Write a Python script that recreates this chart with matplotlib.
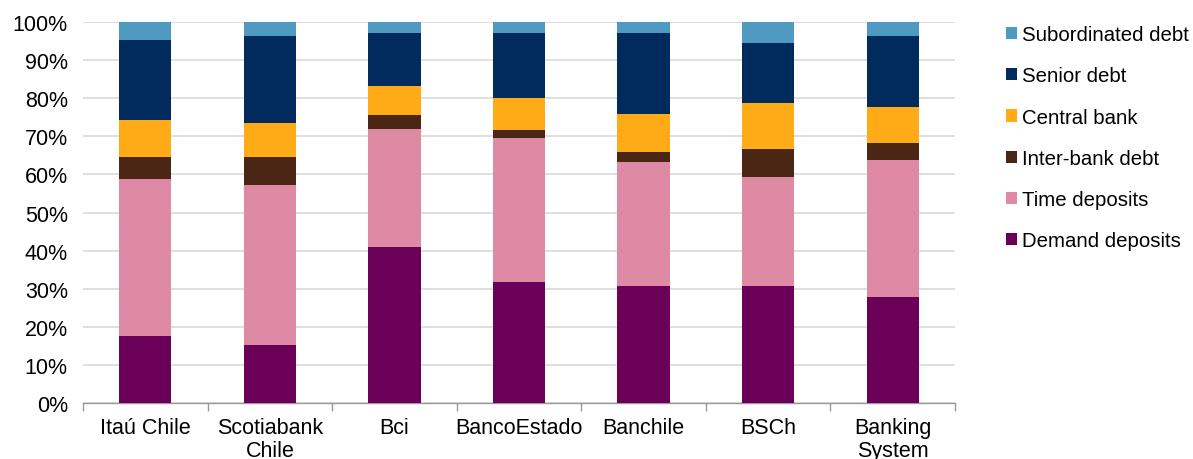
import numpy as np
import matplotlib
matplotlib.use("Agg")
import matplotlib.pyplot as plt

plt.rcParams['font.family'] = ['Liberation Sans', 'DejaVu Sans']

# data (shares of funding, %)
banks = ["Itaú Chile", "Scotiabank\nChile", "Bci", "BancoEstado", "Banchile", "BSCh", "Banking\nSystem"]
demand = [17.6, 15.2, 40.9, 31.8, 30.7, 30.7, 27.8]
time_dep = [41.2, 42.0, 31.0, 37.8, 32.5, 28.6, 36.0]
interbank = [5.8, 7.4, 3.7, 2.1, 2.6, 7.4, 4.4]
central = [9.7, 8.9, 7.6, 8.4, 10.0, 12.0, 9.5]
senior = [21.0, 22.8, 13.9, 17.0, 21.3, 15.8, 18.6]
subord = [4.7, 3.7, 2.9, 2.9, 2.9, 5.5, 3.7]

series = [("Demand deposits", demand, "#6a0057"),
          ("Time deposits", time_dep, "#de8aa4"),
          ("Inter-bank debt", interbank, "#4b2614"),
          ("Central bank", central, "#ffab18"),
          ("Senior debt", senior, "#002b5c"),
          ("Subordinated debt", subord, "#4f9ac2")]

fig = plt.figure(figsize=(11.93, 4.6), dpi=100)
ax = fig.add_axes([0.0696, 0.1217, 0.7309, 0.8283])

x = np.arange(len(banks))
bottom = np.zeros(len(banks))
handles = []
for name, vals, col in series:
    vals = np.array(vals)
    b = ax.bar(x, vals, 0.42, bottom=bottom, color=col, label=name, zorder=3)
    handles.append(b)
    bottom += vals

ax.set_xlim(-0.5, len(banks) - 0.5)
ax.set_ylim(0, 100)
ax.set_yticks(np.arange(0, 101, 10))
ax.set_yticklabels([f"{v}%" for v in range(0, 101, 10)])
ax.yaxis.grid(True, color="#d9d9d9", linewidth=1.2, zorder=0)
ax.tick_params(axis='y', length=0, pad=11, labelsize=15.5)

ax.set_xticks(x)
ax.set_xticklabels(banks, linespacing=1.15)
ax.set_xticks(np.arange(-0.5, len(banks)), minor=True)
ax.tick_params(axis='x', which='major', length=0, pad=10, labelsize=15.5)
ax.tick_params(axis='x', which='minor', length=6, color="#999999", width=1)

for s in ["top", "right", "left"]:
    ax.spines[s].set_visible(False)
ax.spines["bottom"].set_color("#999999")
ax.spines["bottom"].set_linewidth(1)

fig.legend(handles[::-1], [s[0] for s in series][::-1],
           loc="upper left", bbox_to_anchor=(0.843, 0.943), frameon=False,
           fontsize=14.7, handlelength=0.55, handleheight=0.55,
           handletextpad=0.25, labelspacing=1.09, borderpad=0, borderaxespad=0)

fig.savefig("out.png", dpi=100)
